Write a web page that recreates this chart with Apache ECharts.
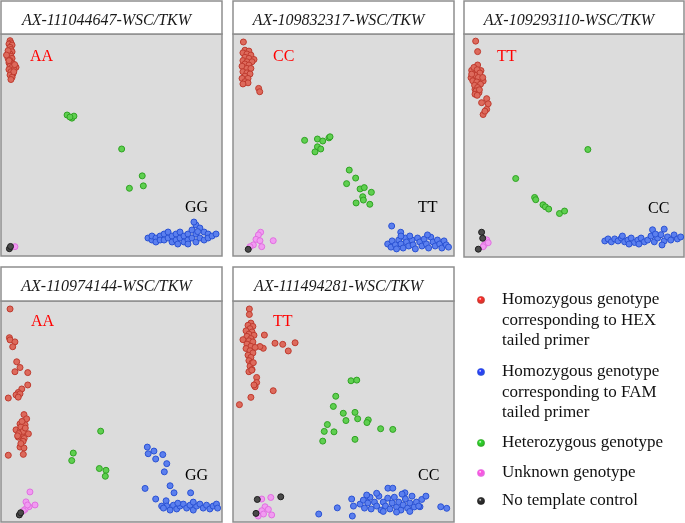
<!DOCTYPE html>
<html><head><meta charset="utf-8">
<script src="https://cdn.jsdelivr.net/npm/echarts@6/dist/echarts.min.js"></script>
<style>html,body{margin:0;padding:0;background:#fff}#c{width:685px;height:523px}</style>
</head><body><div id="c"></div>
<script>
// Panel titles and genotype labels
const panelTitles = ['AX-111044647-WSC/TKW','AX-109832317-WSC/TKW','AX-109293110-WSC/TKW','AX-110974144-WSC/TKW','AX-111494281-WSC/TKW'];
const hexLabels = ['AA','CC','TT','AA','TT'];
const famLabels = ['GG','TT','CC','GG','CC'];
const legendNames = [
  ['Homozygous genotype','corresponding to HEX','tailed primer'],
  ['Homozygous genotype','corresponding to FAM','tailed primer'],
  ['Heterozygous genotype'],
  ['Unknown genotype'],
  ['No template control']
];

// Panel 1
const p1Hex = [[4.1,97],[4.5,96],[3.6,95.5],[5,95],[4.1,94],[4.5,93],[3.6,92],[5,92],[4.1,91],[4.5,90],[3.2,89],[5,89],[4.1,88],[4.5,87],[3.6,87],[5.4,86.5],[4.1,85.5],[5,85],[6.8,85],[5.9,84],[3.6,84],[4.5,83],[5.4,82],[4.1,81.5],[5,80.5],[4.5,79.5],[3.6,88],[3.2,92.5],[2.5,90.5],[6.2,86.2],[5.8,83]];
const p1Fam = [[66.5,8.1],[68.3,7.2],[68.3,9],[70.1,8.1],[70.1,6.3],[72,9],[72,7.2],[73.8,9.9],[73.8,7.2],[75.6,8.1],[75.6,10.8],[77.4,9],[77.4,6.3],[79.2,9.9],[79.2,7.2],[81,8.1],[81,10.8],[82.8,9],[82.8,6.3],[84.6,9.9],[84.6,7.2],[86.4,8.1],[86.4,11.7],[88.2,14],[88.2,9.9],[88.2,6.3],[90,12.6],[90,8.1],[91.9,10.8],[91.9,7.2],[93.7,9.9],[93.7,8.1],[95.5,9],[97.3,9.9],[84.6,5.4],[80,5.4],[87.3,15.3],[89,11]];
const p1Het = [[29.9,63.5],[32.1,62.1],[33,63],[31.2,62.6],[54.6,48.2],[63.9,36.1],[64.4,31.6],[58.1,30.5]];
const p1Unk = [[6.3,4.2]];
const p1Ntc = [[3.8,3.3],[4.3,4.3]];

// Panel 2
const p2Hex = [[4.7,96.4],[5.4,92.7],[7.2,92.3],[4.5,91.5],[6.3,91],[8.1,90.5],[5.4,89.5],[7.2,89],[4.5,88],[6.3,87.5],[9.5,88.5],[8.6,87.5],[5.4,86.5],[7.2,86],[4.1,85.5],[6.3,84.5],[8.1,84.5],[4.5,83],[6.3,82.5],[7.7,82],[5.4,81],[4.1,80],[6.8,80],[5.4,78.5],[6.8,78],[4.5,77.5],[11.6,75.5],[12.1,74]];
const p2Fam = [[71.8,13.5],[75.9,10.7],[70,5.4],[71.5,4],[72,6.8],[73.5,5],[74,3.2],[75,7.2],[76,5.4],[77,3.6],[78,8.1],[78.5,6.3],[79.5,4.5],[81,7.2],[81.5,5],[82.5,3.2],[83.5,8.1],[84.5,6.3],[85.5,4.5],[86.5,7.6],[87.5,5.4],[88.5,3.6],[89.5,8.5],[90.5,6.3],[91.5,4.5],[92.5,7.2],[93.5,5.4],[94.5,3.6],[95.5,6.8],[96.5,5],[97.5,4],[80,9],[88,9.5],[76,9]];
const p2Het = [[32.4,52.1],[38.2,52.7],[40.6,51.8],[43.4,53.2],[43.9,53.7],[38.2,49.2],[39.7,48.2],[37.1,46.9],[52.6,38.7],[55.5,35.1],[51.4,32.6],[57.5,30.2],[59.4,30.8],[62.6,28.7],[58.7,26.7],[59,25.2],[55.7,23.9],[61.9,23.3]];
const p2Unk = [[12.5,10.7],[11.5,9.5],[10.4,7.5],[12.2,6.9],[9.2,5],[13,4.2],[18.2,6.9],[7.7,4.2]];
const p2Ntc = [[6.9,3]];

// Panel 3
const p3Hex = [[5.3,96.8],[6.2,92.1],[6.2,86.1],[3.5,83.7],[7.7,83.6],[3.2,80.4],[8.7,78.9],[5,75.2],[6.8,73.7],[4.5,85],[6,84],[7.2,82.5],[5,81.5],[6.5,80.5],[4,79],[5.8,78.5],[7.5,77.5],[4.8,77],[6.2,76],[5.5,74.5],[7,75],[5,73],[6,72.5],[3.5,82],[8.5,80.5],[10.3,71],[11,68.7],[8,69.2],[10.3,66.2],[8.7,63.9],[9.5,65.4]];
const p3Fam = [[64,7.2],[65.5,8.1],[67,6.8],[68.5,8.1],[70,7.2],[71.5,8.5],[73,6.8],[74.5,7.6],[76,8.5],[77.5,6.5],[79,7.6],[80.5,8.5],[82,6.8],[83.5,7.6],[85,9.4],[85.7,12.2],[86.5,6.8],[88,8.5],[89.5,10],[91,12.5],[91,7.2],[92.5,9],[94,7.6],[95.5,9.9],[97,8.1],[98.5,9],[90,5.4],[87,10.3],[79.5,5.8],[72,9.4],[75,5.8]];
const p3Het = [[56.3,48.2],[23.5,35.2],[32.1,26.7],[32.6,25.7],[35.9,23.4],[37,22.5],[38.5,21.5],[43.4,19.5],[45.7,20.6]];
const p3Unk = [[10.3,7.7],[9.2,5.4],[11,6.4],[8.7,4.6]];
const p3Ntc = [[8,11.1],[8.5,8.4],[6.5,3.5]];

// Panel 4
const p4Hex = [[4.1,96.4],[3.8,83.4],[4.1,82.4],[6.3,81.5],[5.3,79.3],[7.1,72.5],[8.6,69.9],[6.3,68],[12.1,67.6],[12.1,62],[9.4,60.2],[7.8,58.6],[6.8,57.5],[8.6,58],[3.3,56.1],[7.8,56.5],[10.4,48.6],[11.6,46.7],[8.6,44.4],[10.9,44],[6.8,41.7],[8.8,41.5],[12.4,39.9],[9.5,39.2],[7.8,38.4],[10.5,37.8],[8.6,33.9],[10.4,33.5],[3.3,30.2],[10.1,30.6],[9,43],[10,41],[8,40],[11,42.5],[9.5,45.5],[7.5,39],[10,36.5],[9,35.5]];
const p4Fam = [[66.2,33.9],[66.6,30.9],[69.2,32.1],[70,28.5],[73.2,30.5],[75,26.4],[73.9,22.7],[65.2,15.2],[76.5,16.4],[78.3,13.2],[85.8,13.2],[70,10.4],[74.7,9.6],[72.7,7.2],[75,7.2],[76.5,5.4],[78,7.6],[79.5,5.9],[81,7.2],[82.5,8.1],[84,6.3],[85.5,7.6],[87,5.4],[88.5,7.2],[90,8.1],[91.5,6.3],[93,7.6],[94.5,5.9],[96,7.2],[97.5,8.1],[98,6.3],[80,8.5],[87,9],[73.5,6.3]];
const p4Het = [[45.1,41.1],[32.7,31.2],[32,27.8],[44.5,24.2],[47.5,23.4],[47.2,20.7]];
const p4Unk = [[13.1,13.6],[11.3,9.1],[15.4,7.7],[12.7,6.9],[10.9,5.7],[12,7.7],[10.1,5.1]];
const p4Ntc = [[8.3,3.2],[8.9,4.2]];

// Panel 5
const p5Hex = [[7.4,96.4],[7.4,93.9],[14.2,84.6],[13.7,78.6],[19,80.9],[22.5,80.4],[28.1,81.1],[25,77.4],[12.2,79.4],[8.1,90],[6.8,89],[9,88.5],[7.7,87.5],[5.9,86.5],[8.6,86],[7.2,85],[9.5,84.5],[6.3,84],[8.1,83],[4.5,82.5],[7.2,82],[9,81.5],[6.3,80.5],[8.1,79.5],[10,79],[5.9,78.5],[7.7,77.5],[9,76.5],[6.8,75.5],[8.1,74.5],[7.2,73],[8.6,72],[7.7,70.5],[8.6,69],[7.2,68],[9.2,72.1],[8.5,68.7],[10.7,65.4],[10.7,63.1],[10,61.2],[9.5,62],[18.2,59.4],[8.1,56.4],[2.9,53.1]];
const p5Fam = [[38.8,3.6],[47.2,6.4],[53.7,10.4],[54,2.7],[70.1,15.3],[72.3,15.3],[94,6.9],[96.7,6.2],[85.4,10.2],[87.3,11.7],[84.6,6.9],[60.5,10.5],[77.8,13.2],[57.5,8.1],[59,9.9],[59.5,6.3],[61,8.6],[62,11.2],[62.5,5.9],[64,9],[65,7.2],[66,11.7],[67,5.4],[68,9],[69,7.2],[70,10.8],[71,5.9],[72,8.6],[73,11.2],[74,6.8],[75,9],[76,5.4],[77,7.7],[78,10.4],[79,6.3],[80,8.6],[81,11.7],[82,6.8],[83,9],[84,7.2],[76.5,12.6],[65,13],[60.5,12.2],[68,4.8],[74,4.5],[80,4.8],[54.5,7.2]];
const p5Het = [[53.4,63.9],[56,64.2],[46.5,56.9],[45.4,52.3],[49.9,49.2],[55.2,49.6],[51.1,45.9],[56.4,46.7],[61.2,46.2],[60.6,45],[42.7,44.1],[66.8,42.2],[72.3,41.9],[41.3,41],[45.7,40.8],[40.6,36.6],[55.2,37.4]];
const p5Unk = [[13,10.4],[17.1,11.1],[14.5,6.9],[16,5.7],[13,5.1],[17.5,3.2],[11.4,2.7],[13.8,3.6]];
const p5Ntc = [[11,10.2],[21.6,11.4],[10.4,3.9]];

const panels = [
  [p1Hex,p1Fam,p1Het,p1Unk,p1Ntc],
  [p2Hex,p2Fam,p2Het,p2Unk,p2Ntc],
  [p3Hex,p3Fam,p3Het,p3Unk,p3Ntc],
  [p4Hex,p4Fam,p4Het,p4Unk,p4Ntc],
  [p5Hex,p5Fam,p5Het,p5Unk,p5Ntc]
];

const fills = ['#dd6a5c','#5b7fee','#5fcf50','#f29af2','#4a4a4a'];
const edges = ['#bf3b2f','#2a52d4','#2fa323','#e070e0','#1e1e1e'];
const legendFill = ['#ff2a2a','#2a3cff','#2ed82e','#ff4fe0','#333333'];

const boxes = [
  {l:1,t:34,w:221,h:222,tt:1},
  {l:233,t:34,w:221,h:222,tt:1},
  {l:464,t:34,w:220,h:223,tt:1},
  {l:1,t:301,w:221,h:221,tt:267},
  {l:233,t:301,w:221,h:221,tt:267}
];
const hexPos = [[30,57],[273,57],[497,57],[31,322],[273,322]];
const famPos = [[185,208],[418,208],[648,209],[185,476],[418,476]];

const grids=[],xAxes=[],yAxes=[],series=[],graphic=[];
boxes.forEach((b,i)=>{
  grids.push({left:b.l,top:b.t,width:b.w,height:b.h,show:true,backgroundColor:'#dcdcdc',borderColor:'#8e8e8e',borderWidth:1.5});
  xAxes.push({type:'value',gridIndex:i,min:0,max:100,show:false});
  yAxes.push({type:'value',gridIndex:i,min:0,max:100,show:false});
  panels[i].forEach((d,k)=>{
    series.push({type:'scatter',xAxisIndex:i,yAxisIndex:i,data:d,symbolSize:6,silent:true,
      itemStyle:{color:fills[k],borderColor:edges[k],borderWidth:1,opacity:1}});
  });
  graphic.push({type:'rect',shape:{x:b.l,y:b.tt,width:b.w,height:b.t-b.tt},style:{fill:'#fff',stroke:'#8e8e8e',lineWidth:1.5},z:10});
  graphic.push({type:'text',x:b.l+b.w/2-5,y:b.tt+19.5,z:11,style:{text:panelTitles[i],font:'italic 16px "Liberation Serif"',fill:'#1a1a1a',textAlign:'center',textVerticalAlign:'middle'}});
  graphic.push({type:'text',x:hexPos[i][0],y:hexPos[i][1],z:11,style:{text:hexLabels[i],font:'16px "Liberation Serif"',fill:'#ff0000',textAlign:'left',textVerticalAlign:'middle'}});
  graphic.push({type:'text',x:famPos[i][0],y:famPos[i][1],z:11,style:{text:famLabels[i],font:'16px "Liberation Serif"',fill:'#000',textAlign:'left',textVerticalAlign:'middle'}});
});

const legendY = [[300,320.5,341],[372,392.5,413],[443],[473],[501]];
legendNames.forEach((lines,k)=>{
  graphic.push({type:'circle',shape:{cx:481,cy:legendY[k][0],r:3.6},z:11,
    style:{fill:new echarts.graphic.RadialGradient(0.4,0.35,0.7,[{offset:0,color:'#ffffff'},{offset:0.25,color:legendFill[k]},{offset:1,color:edges[k]}]),stroke:edges[k],lineWidth:0.6}});
  lines.forEach((t,j)=>{
    graphic.push({type:'text',x:502,y:legendY[k][j],z:11,style:{text:t,font:'17px "Liberation Serif"',fill:'#111',textAlign:'left',textVerticalAlign:'middle'}});
  });
});

const chart = echarts.init(document.getElementById('c'),null,{renderer:'canvas'});
chart.setOption({animation:false,grid:grids,xAxis:xAxes,yAxis:yAxes,series:series,graphic:graphic});
</script></body></html>
